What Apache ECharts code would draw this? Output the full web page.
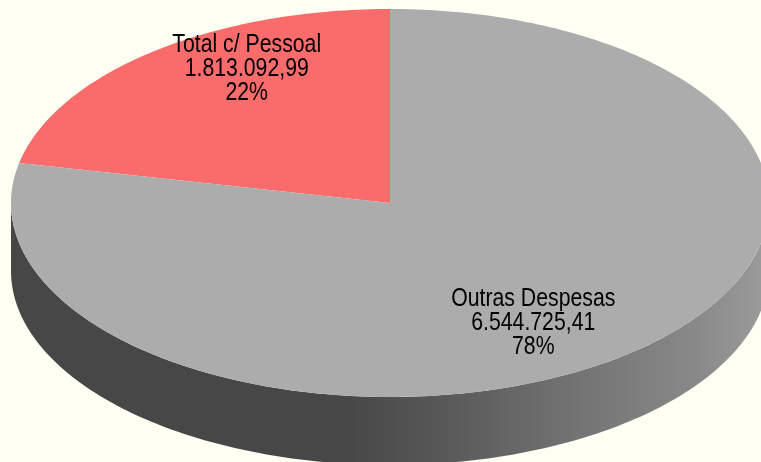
<!DOCTYPE html>
<html>
<head>
<meta charset="utf-8">
<script src="https://cdn.jsdelivr.net/npm/echarts@6/dist/echarts.min.js"></script>
<style>
html,body{margin:0;padding:0;background:#fffff3;}
#chart{width:761px;height:462px;}
</style>
</head>
<body>
<div id="chart"></div>
<script>
// ---- data ----
const categories = ['Total c/ Pessoal', 'Outras Despesas'];
const values = [1813092.99, 6544725.41];
const sliceColors = ['#fa6b6b', '#acacac'];

// ---- layout / style constants ----
const CX = 390, CY = 203, RX = 379, RY = 194, DEPTH = 68;
const LABEL_KX = 0.6, LABEL_KY_BACK = 0.89, LABEL_KY_FRONT = 0.80;
const FONT = "25px 'Liberation Sans Narrow', 'Liberation Sans', Arial, sans-serif";
const TEXT_SCALE_X = 0.85;

const total = values.reduce((a, b) => a + b, 0);

function fmtBR(v) {
  const parts = v.toFixed(2).split('.');
  const intPart = parts[0].replace(/\B(?=(\d{3})+(?!\d))/g, '.');
  return intPart + ',' + parts[1];
}

// a = counter-clockwise angle (deg) from 12 o'clock
function pt(a, dy) {
  const r = a * Math.PI / 180;
  return [CX - RX * Math.sin(r), CY - RY * Math.cos(r) + (dy || 0)];
}
function arcPts(a0, a1, dy) {
  const n = Math.max(2, Math.ceil(Math.abs(a1 - a0) / 1));
  const out = [];
  for (let i = 0; i <= n; i++) out.push(pt(a0 + (a1 - a0) * i / n, dy));
  return out;
}

const starts = [];
let acc = 0;
values.forEach(v => { starts.push(acc); acc += v / total * 360; });

const wallGrad = new echarts.graphic.LinearGradient(0, 0, 1, 0, [
  { offset: 0, color: '#474747' },
  { offset: 0.44, color: '#474747' },
  { offset: 0.56, color: '#575757' },
  { offset: 0.75, color: '#747474' },
  { offset: 0.9, color: '#888888' },
  { offset: 1, color: '#9c9c9c' }
]);

function renderItem(params, api) {
  const i = params.dataIndex;
  const v = api.value(0);
  const a0 = starts[i];
  const a1 = a0 + v / total * 360;
  const children = [];
  // side wall (front half: ccw angles 90..270)
  const w0 = Math.max(a0, 90), w1 = Math.min(a1, 270);
  if (w1 > w0) {
    const top = arcPts(w0, w1, 0);
    const bot = arcPts(w1, w0, DEPTH);
    children.push({
      type: 'polygon', z2: 0,
      shape: { points: top.concat(bot) },
      style: { fill: wallGrad }
    });
  }
  // top face
  const face = [[CX, CY]].concat(arcPts(a0, a1, 0));
  children.push({
    type: 'polygon', z2: 1,
    shape: { points: face },
    style: { fill: sliceColors[i] }
  });
  // label
  const mid = (a0 + a1) / 2;
  const r = mid * Math.PI / 180;
  const ky = Math.cos(r) > 0 ? LABEL_KY_BACK : LABEL_KY_FRONT;
  const lx = CX - RX * LABEL_KX * Math.sin(r);
  const ly = CY - RY * ky * Math.cos(r);
  const pct = Math.round(v / total * 100) + '%';
  children.push({
    type: 'text', z2: 5,
    x: lx, y: ly, scaleX: TEXT_SCALE_X,
    style: {
      text: categories[i] + '\n' + fmtBR(v) + '\n' + pct,
      x: 0, y: 0,
      align: 'center', verticalAlign: 'middle',
      font: FONT, lineHeight: 24, fill: '#000000'
    }
  });
  return { type: 'group', children: children };
}

const chart = echarts.init(document.getElementById('chart'), null, { renderer: 'canvas' });
chart.setOption({
  backgroundColor: '#fffff3',
  animation: false,
  series: [{
    type: 'custom',
    coordinateSystem: 'none',
    renderItem: renderItem,
    data: values.map((v, i) => ({ name: categories[i], value: [v] }))
  }]
});
</script>
</body>
</html>
